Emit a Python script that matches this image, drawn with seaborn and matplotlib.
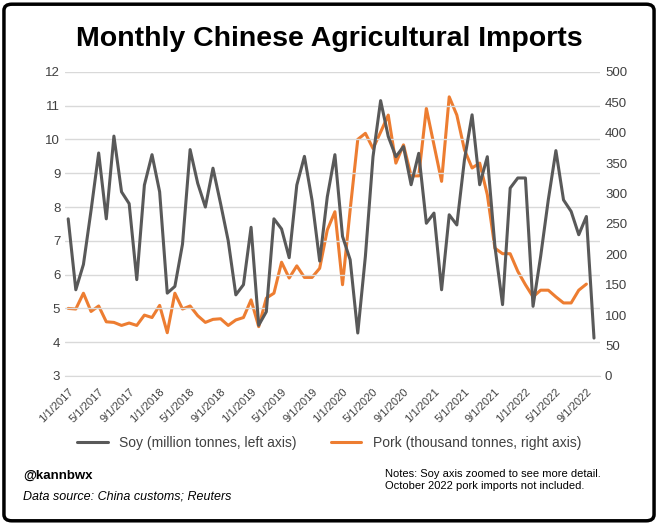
import matplotlib
matplotlib.use("Agg")
import matplotlib.pyplot as plt
import seaborn as sns
import pandas as pd
from matplotlib.patches import FancyBboxPatch

soy = [7.65, 5.55, 6.3, 7.9, 9.6, 7.65, 10.1, 8.45, 8.1, 5.85, 8.65, 9.55,
       8.45, 5.45, 5.65, 6.9, 9.7, 8.7, 8.0, 9.15, 8.1, 7.0, 5.4, 5.7,
       7.4, 4.5, 4.9, 7.65, 7.35, 6.5, 8.65, 9.5, 8.2, 6.4, 8.3, 9.55,
       7.13, 6.44, 4.27, 6.54, 9.49, 11.15, 10.09, 9.49, 9.79, 8.66, 9.59, 7.52,
       7.82, 5.55, 7.77, 7.47, 9.4, 10.73, 8.66, 9.49, 6.83, 5.11, 8.56, 8.86,
       8.86, 5.06, 6.54, 8.21, 9.67, 8.21, 7.87, 7.18, 7.72, 4.12]
pork = [111, 110, 136, 106, 115, 89, 88, 83, 87, 83, 100, 96,
        116, 71, 136, 110, 115, 99, 88, 93, 94, 83, 92, 96,
        125, 81, 128, 136, 187, 161, 181, 162, 162, 177, 240, 270,
        150, 273, 389, 399, 374, 401, 429, 350, 380, 329, 329, 440,
        380, 320, 459, 429, 372, 342, 350, 298, 210, 201, 201, 172,
        150, 130, 141, 141, 130, 120, 120, 141, 151]
tick_labels = ["1/1/2017", "5/1/2017", "9/1/2017", "1/1/2018", "5/1/2018", "9/1/2018",
               "1/1/2019", "5/1/2019", "9/1/2019", "1/1/2020", "5/1/2020", "9/1/2020",
               "1/1/2021", "5/1/2021", "9/1/2021", "1/1/2022", "5/1/2022", "9/1/2022"]

df_soy = pd.DataFrame({"m": range(len(soy)), "v": soy})
df_pork = pd.DataFrame({"m": range(len(pork)), "v": pork})

sns.set_style("white")
plt.rcParams['font.family'] = ['Liberation Sans', 'DejaVu Sans']
plt.rcParams['text.color'] = 'black'
fig = plt.figure(figsize=(6.58, 5.25), dpi=100)
fig.patches.append(FancyBboxPatch((0.006, 0.008), 0.988, 0.984, boxstyle="round,pad=0,rounding_size=0.012",
                                  transform=fig.transFigure, fill=False, lw=2.5, ec="black"))
ax = fig.add_axes([0.099, 0.284, 0.813, 0.579])
ax2 = ax.twinx()
sns.lineplot(data=df_soy, x="m", y="v", ax=ax, color="#595959", lw=2.2, label="Soy (million tonnes, left axis)", legend=False)
sns.lineplot(data=df_pork, x="m", y="v", ax=ax2, color="#ED7D31", lw=2.2, label="Pork (thousand tonnes, right axis)", legend=False)
ax.set_ylim(3, 12); ax2.set_ylim(0, 500)
ax.set_yticks(range(3, 13)); ax2.set_yticks(range(0, 501, 50))
ax.set_xlim(-0.4, 69.8)
ax.set_xticks(range(0, 70, 4))
ax.set_xticklabels(tick_labels, rotation=45, ha="right", rotation_mode="anchor", fontsize=8)
ax.grid(axis="y", color="#d9d9d9", lw=1)
ax.set_axisbelow(True)
for a in (ax, ax2):
    a.set_xlabel(""); a.set_ylabel("")
    for s in a.spines.values():
        s.set_visible(False)
    a.tick_params(axis="y", length=0, labelsize=9.5, colors="#404040")
ax.spines["bottom"].set_visible(True); ax.spines["bottom"].set_color("#d9d9d9")
ax.tick_params(axis="x", length=4, color="#d9d9d9", colors="#404040")
ax.set_zorder(ax2.get_zorder() + 1); ax.patch.set_visible(False)

fig.text(0.5, 0.925, "Monthly Chinese Agricultural Imports", ha="center", va="center", fontsize=20.5, fontweight="bold", color="black")
h1, l1 = ax.get_legend_handles_labels(); h2, l2 = ax2.get_legend_handles_labels()
fig.legend(h1 + h2, l1 + l2, loc="center", bbox_to_anchor=(0.5, 0.157), ncol=2, frameon=False,
           fontsize=10, handlelength=2.2, columnspacing=2.5, labelcolor="#404040")
fig.text(0.035, 0.088, "@kannbwx", fontsize=9.5, fontweight="bold", color="black")
fig.text(0.035, 0.048, "Data source: China customs; Reuters", fontsize=9, style="italic", color="black")
fig.text(0.585, 0.068, "Notes: Soy axis zoomed to see more detail.\nOctober 2022 pork imports not included.", fontsize=8, linespacing=1.3, color="black")
fig.savefig("out.png", dpi=100)
